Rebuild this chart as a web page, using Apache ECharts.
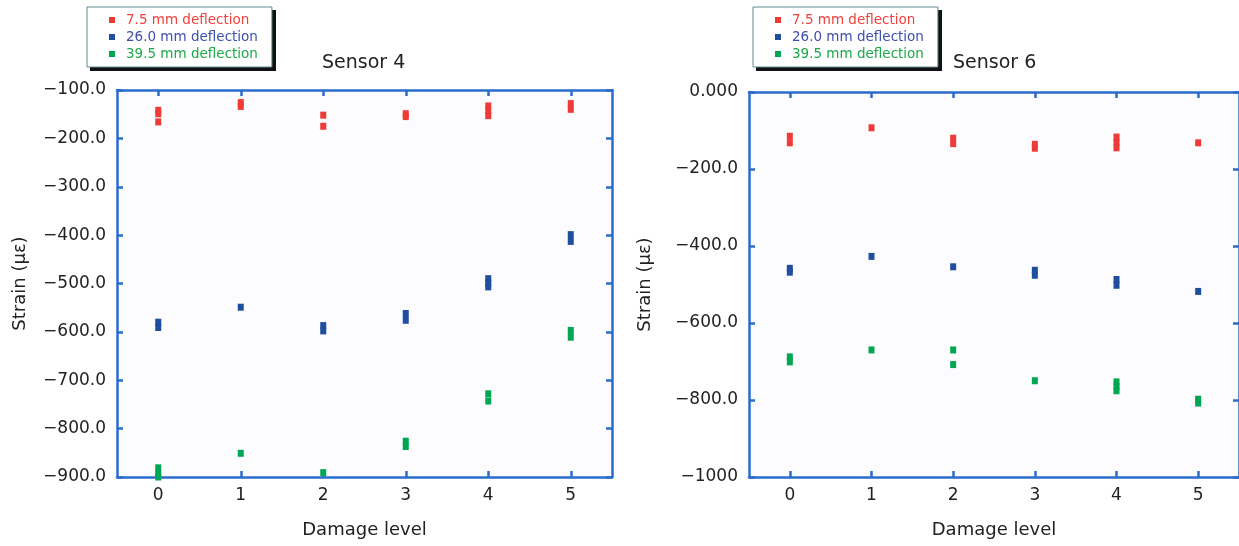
<!DOCTYPE html>
<html>
<head>
<meta charset="utf-8">
<script src="https://cdn.jsdelivr.net/npm/echarts@6/dist/echarts.min.js"></script>
<style>
html, body { margin: 0; padding: 0; background: #fff; }
#main { width: 1239px; height: 546px; }
</style>
</head>
<body>
<div id="main"></div>
<script>
// damage levels (x categories)
var levels = ['0', '1', '2', '3', '4', '5'];
var seriesNames = ['7.5 mm deflection', '26.0 mm deflection', '39.5 mm deflection'];

// Sensor 4 readings [damage level, strain]
var s4_def75 = [[0, -142], [0, -149], [0, -166], [1, -126], [1, -134], [2, -152], [2, -175], [3, -149], [3, -155],
    [4, -133], [4, -143], [4, -153], [5, -128], [5, -140]];
var s4_def260 = [[0, -580], [0, -591], [1, -549], [2, -587], [2, -598], [3, -562], [3, -576],
    [4, -490], [4, -499], [4, -507], [5, -399], [5, -413]];
var s4_def395 = [[0, -881], [0, -893], [0, -900], [1, -851], [2, -891], [3, -826], [3, -837],
    [4, -728], [4, -743], [5, -597], [5, -611]];

// Sensor 6 readings
var s6_def75 = [[0, -115], [0, -132], [1, -93], [2, -120], [2, -134], [3, -136], [3, -146],
    [4, -117], [4, -131], [4, -145], [5, -132]];
var s6_def260 = [[0, -458], [0, -468], [1, -427], [2, -454], [3, -463], [3, -476], [4, -487], [4, -502], [5, -518]];
var s6_def395 = [[0, -688], [0, -701], [1, -670], [2, -670], [2, -708], [3, -750],
    [4, -753], [4, -765], [4, -776], [5, -798], [5, -808]];

// y tick values and their labels
var s4TickValues = [-900, -800, -700, -600, -500, -400, -300, -200, -100];
var s4TickLabels = ['\u2212900.0', '\u2212800.0', '\u2212700.0', '\u2212600.0', '\u2212500.0', '\u2212400.0', '\u2212300.0', '\u2212200.0', '\u2212100.0'];
var s6TickValues = [-1000, -800, -600, -400, -200, 0];
var s6TickLabels = ['\u22121000', '\u2212800.0', '\u2212600.0', '\u2212400.0', '\u2212200.0', '0.000'];

var frameColor = '#2a6ccb';
var markColors = ['#ef3b36', '#1f4e9e', '#00a651'];
var textColors = ['#f0413c', '#3d4fae', '#1ea84a'];
var font = 'DejaVu Sans';

var chart = echarts.init(document.getElementById('main'));

function legendFor(left) {
    return {
        left: left, top: 7,
        orient: 'vertical',
        selectedMode: false,
        backgroundColor: '#fff',
        borderColor: '#5f8a8e', borderWidth: 1,
        padding: [6, 14, 6, 22],
        itemGap: 3,
        itemWidth: 6, itemHeight: 6,
        icon: 'rect',
        z: 10,
        data: seriesNames.map(function (n, i) {
            return {
                name: n,
                itemStyle: { color: markColors[i], opacity: 1 },
                textStyle: { color: textColors[i], fontSize: 13.5, fontFamily: font, lineHeight: 14, padding: [0, 0, 0, 6] }
            };
        })
    };
}

// dark drop shadow behind a legend box
function legendShadow(left) {
    return {
        type: 'rect', left: left + 3, top: 10, z: 5,
        shape: { width: 186, height: 61 },
        style: { fill: '#111' }
    };
}

function xAxisFor(grid, top) {
    return {
        type: 'category', gridIndex: grid, data: levels, position: top ? 'top' : 'bottom',
        boundaryGap: true,
        axisLine: { show: true, onZero: false, lineStyle: { color: frameColor, width: 2.5 } },
        axisTick: { show: true, alignWithLabel: true, inside: true, length: 6, lineStyle: { color: frameColor, width: 2.5 } },
        axisLabel: { show: !top, color: '#222', fontSize: 17, fontFamily: font, margin: 10 },
        splitLine: { show: false },
        name: top ? '' : 'Damage level',
        nameLocation: 'middle', nameGap: 44,
        nameTextStyle: { color: '#222', fontSize: 18, fontFamily: font }
    };
}

function yAxisFor(grid, right, min, max, step, vals, labels, gap) {
    return {
        type: 'value', gridIndex: grid, position: right ? 'right' : 'left',
        min: min, max: max, interval: step,
        axisLine: { show: true, onZero: false, lineStyle: { color: frameColor, width: 2.5 } },
        axisTick: { show: true, inside: true, length: 6, lineStyle: { color: frameColor, width: 2.5 } },
        axisLabel: {
            show: !right, color: '#222', fontSize: 17, fontFamily: font, margin: 11,
            formatter: function (v) { return labels[vals.indexOf(v)]; }
        },
        splitLine: { show: false },
        name: right ? '' : 'Strain (\u03bc\u03b5)',
        nameLocation: 'middle', nameGap: gap, nameRotate: 90,
        nameTextStyle: { color: '#222', fontSize: 18, fontFamily: font }
    };
}

function scatter(name, i, grid, data) {
    return {
        name: name, type: 'scatter', xAxisIndex: grid * 2, yAxisIndex: grid * 2,
        symbol: 'rect', symbolSize: [6, 7],
        itemStyle: { color: markColors[i], opacity: 1 },
        data: data
    };
}

var option = {
    animation: false,
    backgroundColor: '#fff',
    title: [
        { text: 'Sensor 4', left: 322, top: 54, padding: 0, textStyle: { color: '#222', fontSize: 19, fontWeight: 'normal', fontFamily: font } },
        { text: 'Sensor 6', left: 953, top: 54, padding: 0, textStyle: { color: '#222', fontSize: 19, fontWeight: 'normal', fontFamily: font } }
    ],
    legend: [legendFor(87), legendFor(753)],
    graphic: [legendShadow(87), legendShadow(753)],
    grid: [
        { left: 117, top: 90, width: 495, height: 387, show: true, backgroundColor: '#fcfcff', borderWidth: 0 },
        { left: 749, top: 92, width: 495, height: 385, show: true, backgroundColor: '#fcfcff', borderWidth: 0 }
    ],
    xAxis: [xAxisFor(0, false), xAxisFor(0, true), xAxisFor(1, false), xAxisFor(1, true)],
    yAxis: [
        yAxisFor(0, false, -900, -100, 100, s4TickValues, s4TickLabels, 88),
        yAxisFor(0, true, -900, -100, 100, s4TickValues, s4TickLabels, 0),
        yAxisFor(1, false, -1000, 0, 200, s6TickValues, s6TickLabels, 95),
        yAxisFor(1, true, -1000, 0, 200, s6TickValues, s6TickLabels, 0)
    ],
    series: [
        scatter(seriesNames[0], 0, 0, s4_def75),
        scatter(seriesNames[1], 1, 0, s4_def260),
        scatter(seriesNames[2], 2, 0, s4_def395),
        scatter(seriesNames[0], 0, 1, s6_def75),
        scatter(seriesNames[1], 1, 1, s6_def260),
        scatter(seriesNames[2], 2, 1, s6_def395)
    ]
};
chart.setOption(option);
</script>
</body>
</html>
